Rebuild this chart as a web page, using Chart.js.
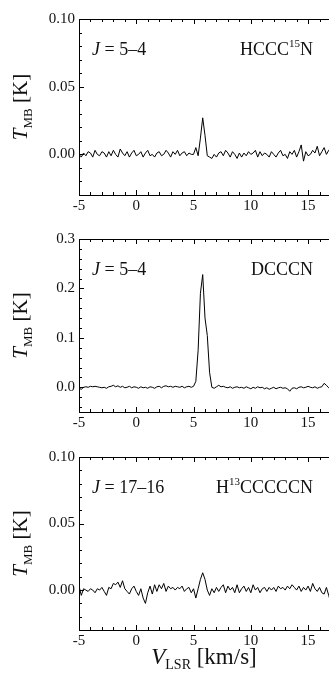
<!DOCTYPE html>
<html>
<head>
<meta charset="utf-8">
<script src="https://cdn.jsdelivr.net/npm/chart.js@4.4.0/dist/chart.umd.min.js"></script>
<style>
html, body { margin: 0; padding: 0; background: #fff; overflow: hidden; width: 329px; height: 682px; }
canvas { position: absolute; left: 0; }
</style>
</head>
<body>
<canvas id="c1" width="335" height="220" style="top:0px"></canvas>
<canvas id="c2" width="335" height="220" style="top:220px"></canvas>
<canvas id="c3" width="335" height="242" style="top:440px"></canvas>
<script>
// velocity channels (km/s), shared by the three spectra
var velocity = [
	-5.0,-4.8,-4.6,-4.4,-4.2,-4.0,-3.8,-3.6,-3.4,-3.2,-3.0,
	-2.8,-2.6,-2.4,-2.2,-2.0,-1.8,-1.6,-1.4,-1.2,-1.0,
	-0.8,-0.6,-0.4,-0.2,0.0,0.2,0.4,0.6,0.8,1.0,
	1.2,1.4,1.6,1.8,2.0,2.2,2.4,2.6,2.8,3.0,
	3.2,3.4,3.6,3.8,4.0,4.2,4.4,4.6,4.8,5.0,
	5.2,5.4,5.6,5.8,6.0,6.2,6.4,6.6,6.8,7.0,
	7.2,7.4,7.6,7.8,8.0,8.2,8.4,8.6,8.8,9.0,
	9.2,9.4,9.6,9.8,10.0,10.2,10.4,10.6,10.8,11.0,
	11.2,11.4,11.6,11.8,12.0,12.2,12.4,12.6,12.8,13.0,
	13.2,13.4,13.6,13.8,14.0,14.2,14.4,14.6,14.8,15.0,
	15.2,15.4,15.6,15.8,16.0,16.2,16.4,16.6,16.8,17.0
];

// T_MB [K]
var hccc15n = [
	0.000,-0.002,0.001,-0.001,0.002,0.001,-0.002,0.003,0.000,-0.001,0.002,
	0.001,-0.002,0.002,-0.001,0.003,0.000,-0.002,0.004,0.001,-0.001,
	0.002,-0.002,0.001,0.003,-0.001,0.000,0.002,-0.002,0.001,0.003,
	-0.001,0.000,-0.002,0.001,0.002,-0.001,0.000,0.003,0.001,-0.002,
	0.002,0.000,0.003,-0.001,0.001,0.002,-0.001,0.001,0.000,0.000,
	0.005,-0.001,0.012,0.027,0.014,-0.001,-0.002,-0.003,0.000,-0.002,
	0.001,0.002,-0.001,0.003,0.001,-0.002,0.002,0.000,-0.003,0.001,
	-0.002,0.001,-0.001,0.002,0.000,0.001,0.003,-0.002,0.002,-0.001,
	0.001,0.000,-0.002,0.002,0.000,-0.002,0.001,0.003,-0.001,0.000,
	-0.003,0.002,0.000,0.003,-0.002,0.002,0.007,-0.005,0.002,-0.001,
	0.000,0.003,0.001,0.006,-0.001,0.002,0.005,0.000,0.003,0.005
];
var dcccn = [
	-0.002,-0.004,0.000,0.001,0.000,0.002,0.001,0.002,0.001,0.000,-0.001,
	0.000,-0.002,0.001,0.002,0.004,0.001,0.003,0.000,0.002,-0.001,
	0.000,0.002,-0.001,0.001,0.000,-0.002,0.001,-0.001,0.000,-0.002,
	0.001,0.000,-0.002,0.001,0.002,-0.001,0.002,0.003,0.001,0.002,
	0.000,0.002,0.001,0.000,0.002,-0.001,0.001,0.002,0.000,0.002,
	0.012,0.075,0.190,0.228,0.140,0.105,0.030,0.000,-0.002,0.001,
	0.004,0.001,0.002,0.000,-0.001,0.001,-0.002,0.000,0.001,-0.001,
	0.000,-0.002,0.001,-0.001,-0.003,0.000,-0.002,0.001,-0.001,0.000,
	-0.003,-0.001,-0.004,-0.002,0.000,-0.003,-0.001,0.000,-0.002,-0.001,
	-0.003,-0.008,-0.002,-0.001,-0.003,0.000,0.001,-0.001,0.000,0.002,
	0.000,-0.001,0.001,-0.002,0.000,0.001,0.008,0.004,-0.001,0.000
];
var h13c5n = [
	0.003,-0.004,0.001,0.000,-0.001,0.001,0.000,-0.002,0.001,0.000,0.002,
	-0.001,-0.004,0.002,0.001,0.005,0.004,0.006,0.002,0.007,0.001,
	-0.001,-0.003,0.001,0.003,-0.001,-0.004,0.001,-0.006,-0.010,-0.002,
	0.003,-0.003,0.004,-0.001,0.004,0.001,0.005,-0.001,0.003,0.001,
	0.002,0.000,0.002,0.001,0.003,-0.001,0.001,0.002,-0.002,0.001,
	-0.006,0.001,0.008,0.013,0.008,0.000,-0.004,0.001,-0.002,0.002,
	-0.001,0.002,0.004,-0.002,0.003,0.000,0.002,-0.002,0.004,-0.002,
	0.001,0.003,-0.001,0.002,-0.002,0.004,0.000,0.002,-0.002,0.001,
	0.002,-0.001,0.002,0.000,0.002,-0.001,0.003,0.001,0.002,0.000,
	0.003,0.001,0.004,0.002,0.000,0.003,-0.001,0.002,0.000,0.003,
	-0.001,0.005,0.001,-0.001,0.002,-0.002,-0.003,0.002,-0.004,-0.010
];

var xLabels = [-5, 0, 5, 10, 15];
var transitions = ["5–4", "5–4", "17–16"];
// molecule name as [before superscript, superscript, after]
var molecules = [["HCCC", "15", "N"], ["DCCCN", "", ""], ["H", "13", "CCCCCN"]];
var yLabels1 = [0, 0.05, 0.10];
var yLabels2 = [0, 0.1, 0.2, 0.3];
var yLabels3 = [0, 0.05, 0.10];

var SERIF = "'Liberation Serif', 'Times New Roman', serif";

function richText(ctx, parts, x, y, size, align) {
	function font(p) {
		var small = p[1] == "sub" || p[1] == "sup";
		return (p[1] == "i" ? "italic " : "") + (small ? Math.round(size * 0.62) : size) + "px " + SERIF;
	}
	var w = 0;
	parts.forEach(function(p) { ctx.font = font(p); w += ctx.measureText(p[0]).width; });
	var cx = align == "right" ? x - w : (align == "center" ? x - w / 2 : x);
	ctx.textAlign = "left";
	ctx.textBaseline = "alphabetic";
	parts.forEach(function(p) {
		ctx.font = font(p);
		var dy = p[1] == "sub" ? size * 0.22 : (p[1] == "sup" ? -size * 0.45 : 0);
		ctx.fillText(p[0], cx, y + dy);
		cx += ctx.measureText(p[0]).width;
	});
}

// inward tick marks, titles and labels
var decor = {
	id: "decor",
	afterDraw: function(chart, args, o) {
		var ctx = chart.ctx, a = chart.chartArea;
		var xs = chart.scales.x, ys = chart.scales.y;
		ctx.save();
		ctx.fillStyle = "#000";
		for (var v = -5; v <= 17; v++) {
			var px = Math.round(xs.getPixelForValue(v));
			var len = v % 5 == 0 ? 5 : 3;
			ctx.fillRect(px, a.bottom - len, 1, len);
			ctx.fillRect(px, a.top, 1, len);
		}
		var k0 = Math.ceil(o.yMin / o.minor - 1e-6), k1 = Math.floor(o.yMax / o.minor + 1e-6);
		for (var k = k0; k <= k1; k++) {
			var val = k * o.minor;
			var py = Math.round(ys.getPixelForValue(val));
			var major = Math.abs(val / o.major - Math.round(val / o.major)) < 1e-6;
			ctx.fillRect(a.left, py, major ? 5 : 3, 1);
		}

		ctx.fillStyle = "#111";
		ctx.translate(27, (a.top + a.bottom) / 2);
		ctx.rotate(-Math.PI / 2);
		richText(ctx, [["T", "i"], ["MB", "sub"], [" [K]", ""]], 0, 0, 21, "center");
		ctx.restore();

		ctx.save();
		ctx.fillStyle = "#111";
		richText(ctx, [["J", "i"], [" = " + o.trans, ""]], a.left + 13, a.top + 36, 18, "left");
		var m = o.mol;
		richText(ctx, [[m[0], ""], [m[1], "sup"], [m[2], ""]], 313, a.top + 36, 18, "right");
		if (o.xTitle) {
			richText(ctx, [["V", "i"], ["LSR", "sub"], [" [km/s]", ""]], 204, a.bottom + 34, 23, "center");
		}
		ctx.restore();
	}
};

function makePanel(id, values, yMin, yMax, yLabels, minor, major, dec, padTop, padBottom, idx, xTitle) {
	var pts = [];
	for (var i = 0; i < velocity.length; ++i) {
		pts.push({x: velocity[i], y: values[i]});
	}
	var tickFont = {family: SERIF, size: 15};
	new Chart(document.getElementById(id), {
		type: "line",
		data: {
			datasets: [{
				data: pts,
				borderColor: "#000",
				borderWidth: 1,
				pointRadius: 0,
				tension: 0,
				fill: false
			}]
		},
		options: {
			responsive: false,
			animation: false,
			devicePixelRatio: 1,
			layout: {padding: {top: padTop, bottom: padBottom, left: 0, right: 4}},
			plugins: {
				legend: {display: false},
				tooltip: {enabled: false},
				decor: {yMin: yMin, yMax: yMax, minor: minor, major: major, trans: transitions[idx], mol: molecules[idx], xTitle: xTitle}
			},
			scales: {
				x: {
					type: "linear", position: "bottom", min: -5, max: 17,
					grid: {display: false, drawTicks: false},
					border: {display: true, color: "#000", width: 1},
					ticks: {padding: 2, font: tickFont, color: "#111", maxRotation: 0, callback: function(v) { return String(v); }},
					afterBuildTicks: function(s) { s.ticks = xLabels.map(function(v) { return {value: v}; }); },
					afterFit: function(s) { s.height = 25; }
				},
				x2: {
					type: "linear", position: "top", min: -5, max: 17,
					grid: {display: false, drawTicks: false},
					border: {display: true, color: "#000", width: 1},
					ticks: {display: false},
					afterFit: function(s) { s.height = 0; }
				},
				y: {
					type: "linear", min: yMin, max: yMax,
					grid: {display: false, drawTicks: false},
					border: {display: true, color: "#000", width: 1},
					ticks: {padding: 4, font: tickFont, color: "#111", callback: function(v) { return v.toFixed(dec); }},
					afterBuildTicks: function(s) { s.ticks = yLabels.map(function(v) { return {value: v}; }); },
					afterFit: function(s) { s.width = 79; }
				}
			}
		},
		plugins: [decor]
	});
}

makePanel("c1", hccc15n, -0.03, 0.10, yLabels1, 0.01, 0.05, 2, 19, 0, 0, false);
makePanel("c2", dcccn, -0.05, 0.30, yLabels2, 0.02, 0.1, 1, 19, 3, 1, false);
makePanel("c3", h13c5n, -0.03, 0.10, yLabels3, 0.01, 0.05, 2, 17, 27, 2, true);
</script>
</body>
</html>
